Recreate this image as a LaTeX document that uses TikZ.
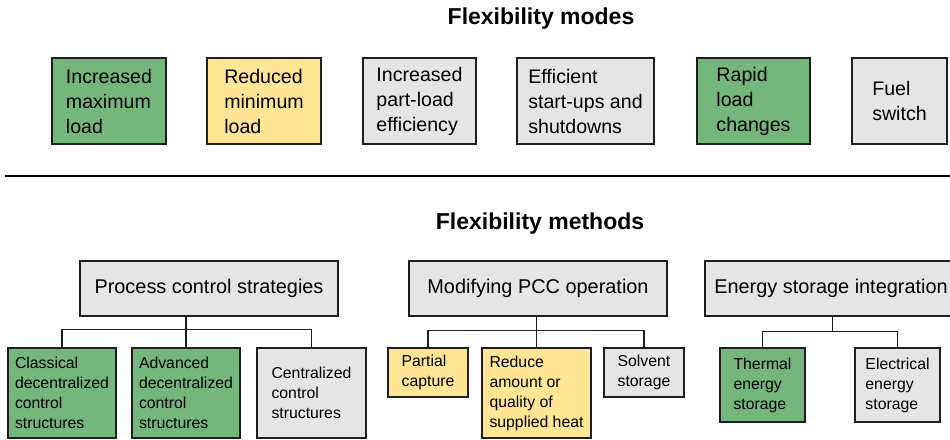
\documentclass[tikz,border=0pt]{standalone}
\usepackage{fontspec}
\setmainfont{Liberation Sans}
\usetikzlibrary{calc}

\definecolor{fillgreenc}{RGB}{115,183,124}
\definecolor{fillyellowc}{RGB}{255,229,148}
\definecolor{fillgrayc}{RGB}{229,229,229}
\definecolor{edgec}{RGB}{30,30,30}

\tikzset{
  box/.style={draw=edgec, line width=1.4pt, inner sep=0pt, align=left, text=black},
  fillgreen/.style={fill=fillgreenc},
  fillyellow/.style={fill=fillyellowc},
  fillgray/.style={fill=fillgrayc},
  modebox/.style={box, minimum height=86pt, font=\fontsize{19.6}{25}\selectfont},
  groupbox/.style={box, fillgray, minimum height=55pt, font=\fontsize{19.9}{24}\selectfont},
  leafbox/.style={box, font=\fontsize{15.8}{20}\selectfont},
  link/.style={draw=edgec, line width=1.3pt},
  heading/.style={font=\bfseries\fontsize{23}{27}\selectfont, anchor=base, inner sep=0pt}
}

\begin{document}
\begin{tikzpicture}[x=1pt, y=-1pt]
\useasboundingbox (0,0) rectangle (950,439);

% headings
\node[heading] (t1) at (541,24.5) {Flexibility modes};
\node[heading] (t2) at (540,229.5) {Flexibility methods};

% flexibility modes
\node[modebox, fillgreen,  minimum width=114pt] (m1) at (109,101)   {Increased\\maximum\\load};
\node[modebox, fillyellow, minimum width=114pt] (m2) at (264,101)   {Reduced\\minimum\\load};
\node[modebox, fillgray,   minimum width=113pt] (m3) at (419.5,101) {Increased\\part-load\\efficiency};
\node[modebox, fillgray,   minimum width=137pt] (m4) at (585.5,101) {Efficient\\start-ups and\\shutdowns};
\node[modebox, fillgreen,  minimum width=113pt] (m5) at (753.5,101) {Rapid\\load\\changes};
\node[modebox, fillgray,   minimum width=95pt]  (m6) at (899.5,101) {Fuel\\switch};

% separator
\coordinate (sepL) at (5,175.5);
\coordinate (sepR) at (950,175.5);
\draw[line width=2pt, black] (sepL) -- (sepR);

% flexibility methods: groups
\node[groupbox, minimum width=258pt] (g1) at (209,288.5) {Process control strategies};
\node[groupbox, minimum width=258pt] (g2) at (538,288.5) {Modifying PCC operation};
\node[groupbox, minimum width=252pt] (g3) at (831,288.5) {Energy storage integration};

% process control strategies
\node[leafbox, fillgreen, minimum width=108pt, minimum height=90pt] (c1) at (62,393)    {Classical\\decentralized\\control\\structures};
\node[leafbox, fillgreen, minimum width=108pt, minimum height=90pt] (c2) at (186,393)   {Advanced\\decentralized\\control\\structures};
\node[leafbox, fillgray,  minimum width=109pt, minimum height=90pt] (c3) at (311.5,393) {Centralized\\control\\structures};

% modifying PCC operation
\node[leafbox, fillyellow, minimum width=80pt,  minimum height=49pt] (k1) at (428,372.5) {Partial\\capture};
\node[leafbox, fillyellow, minimum width=109pt, minimum height=90pt] (k2) at (536.5,393) {Reduce\\amount or\\quality of\\supplied heat};
\node[leafbox, fillgray,   minimum width=80pt,  minimum height=49pt] (k3) at (644,372.5) {Solvent\\storage};

% energy storage integration
\node[leafbox, fillgreen, minimum width=85pt, minimum height=74pt] (e1) at (762.5,385) {Thermal\\energy\\storage};
\node[leafbox, fillgray,  minimum width=85pt, minimum height=74pt] (e2) at (897.5,385) {Electrical\\energy\\storage};

% tree connectors
\draw[link] (g1.south -| c2.north) -- (c2.north);
\draw[link] (c1.north) -- ++(0,-18) -| (c3.north);

\draw[link] (g2.south -| k2.north) -- (k2.north);
\draw[link] (k1.north) -- ++(0,-17) -| (k3.north);

\path (e1.north) ++(0,-16) coordinate (ebar);
\coordinate (ejoin) at ($(e1.north)!0.52!(e2.north)$);
\draw[link] (g3.south -| ejoin) -- (ejoin |- ebar);
\draw[link] (e1.north) -- (ebar) -| (e2.north);
\end{tikzpicture}
\end{document}
